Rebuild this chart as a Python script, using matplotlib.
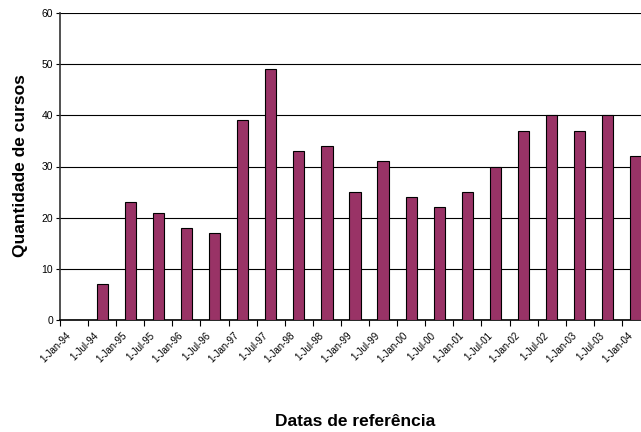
import numpy as np
import matplotlib
matplotlib.use('Agg')
import matplotlib.pyplot as plt
from matplotlib.transforms import ScaledTranslation

plt.rcParams['font.family'] = ['Liberation Sans', 'DejaVu Sans']

# semiannual reference dates and course counts
dates = ['1-Jan-94', '1-Jul-94', '1-Jan-95', '1-Jul-95', '1-Jan-96', '1-Jul-96',
         '1-Jan-97', '1-Jul-97', '1-Jan-98', '1-Jul-98', '1-Jan-99', '1-Jul-99',
         '1-Jan-00', '1-Jul-00', '1-Jan-01', '1-Jul-01', '1-Jan-02', '1-Jul-02',
         '1-Jan-03', '1-Jul-03', '1-Jan-04']
cursos = [0, 7, 23, 21, 18, 17, 39, 49, 33, 34, 25, 31,
          24, 22, 25, 30, 37, 40, 37, 40, 32]

fig = plt.figure(figsize=(6.41, 4.32), dpi=100)
# plot area runs past the right edge, like the original
ax = fig.add_axes([60 / 641, 112 / 432, 590 / 641, 307 / 432])

x = np.arange(len(dates))
ax.bar(x, cursos, width=0.4, color='#993366', edgecolor='black', linewidth=0.8, zorder=3)

ax.set_xlim(-0.5, len(dates) - 0.5)
ax.set_ylim(0, 60)
ax.set_yticks(range(0, 61, 10))
ax.yaxis.grid(True, color='black', linewidth=0.8, zorder=0)
ax.tick_params(axis='y', labelsize=7.5, length=3, width=0.8, direction='out', pad=2)

ax.set_xticks(x)
ax.set_xticklabels(dates, rotation=45, ha='right', va='center', rotation_mode='anchor', fontsize=7)
ax.set_xticks(np.arange(-0.5, len(dates), 1), minor=True)
ax.tick_params(axis='x', which='major', length=0, pad=10)
ax.tick_params(axis='x', which='minor', length=4, width=0.8, direction='out')
shift = ScaledTranslation(-5 / 100, 0, fig.dpi_scale_trans)
for lab in ax.get_xticklabels():
    lab.set_transform(lab.get_transform() + shift)

for side in ['top', 'right']:
    ax.spines[side].set_visible(False)
ax.spines['left'].set_linewidth(1.2)
ax.spines['left'].set_color('#333333')
ax.spines['bottom'].set_linewidth(1.2)

fig.text(21 / 641, 1 - 166 / 432, 'Quantidade de cursos', rotation=90, fontsize=12.5,
         fontweight='bold', ha='center', va='center')
fig.text(355 / 641, 1 - 421 / 432, 'Datas de referência', fontsize=12.5,
         fontweight='bold', ha='center', va='center')

fig.savefig('out.png', dpi=100)
